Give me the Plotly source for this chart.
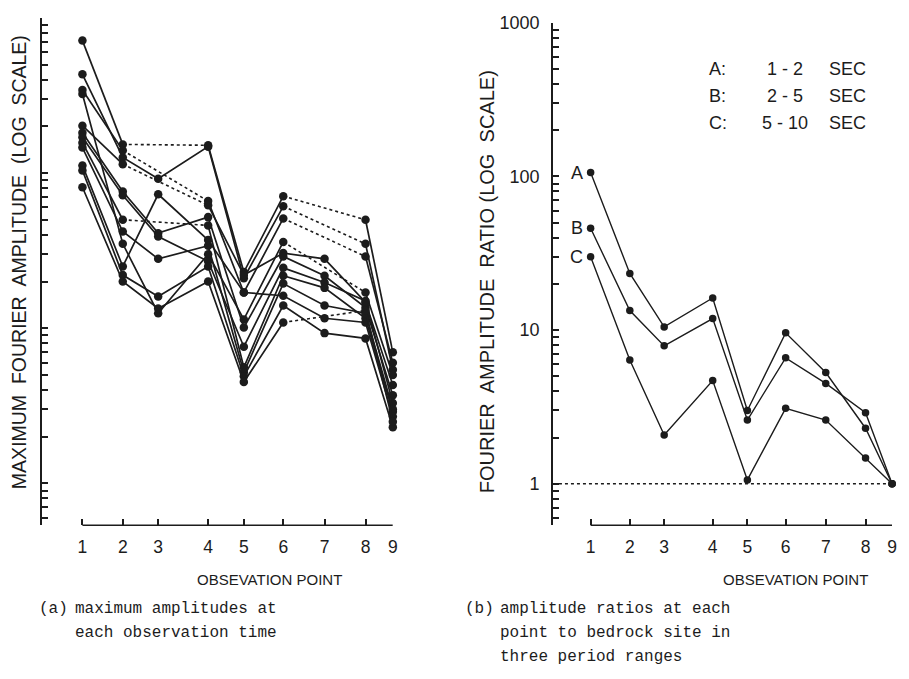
import math
import plotly.graph_objects as go

W, H = 909, 679

obs_points = [1, 2, 3, 4, 5, 6, 7, 8, 9]
obs_pos = [0, 1.3, 2.44, 4.05, 5.2, 6.47, 7.8, 9.12, 10]

# (a) maximum amplitudes, one list per observation time (None = no record -> dotted)
amp_1 = [714, 153, None, 151, 23, 71, None, 50, 7.0]
amp_2 = [433, 126, 92, 148, 21, 61, None, 35, 5.4]
amp_3 = [343, 140, None, 66, 17, 51, None, 29, 6.0]
amp_4 = [323, 35, 12.5, 30, 11.4, 36, None, 17, 5.0]
amp_5 = [202, 114, None, 62, 22, 30.5, 28, 14.7, 4.3]
amp_6 = [182, 76, 41, 52, 10.1, 29, 21.8, 13.6, 3.7]
amp_7 = [170, 72, 39, 27, 7.6, 24.5, 19.7, 15, 3.3]
amp_8 = [157, 50, None, 46, 5.6, 21.8, 18.2, 11.6, 2.9]
amp_9 = [146, 42, 28, 34, 5.2, 19.4, 14, 12.5, 3.0]
amp_10 = [112, 25, 73, 37, 17, 16.2, 11.6, 10.9, 2.7]
amp_11 = [104, 22, 16, 25, 4.9, 14, 9.3, 8.6, 2.3]
amp_12 = [81, 20, 13.4, 20, 4.5, 10.9, None, 13, 2.5]
amp_series = [amp_1, amp_2, amp_3, amp_4, amp_5, amp_6,
              amp_7, amp_8, amp_9, amp_10, amp_11, amp_12]

# (b) amplitude ratio to bedrock site (point 9)
ratio_a = [106, 23.4, 10.5, 16.2, 3.0, 9.6, 5.3, 2.3, 1.0]
ratio_b = [46, 13.4, 7.9, 11.9, 2.6, 6.6, 4.5, 2.9, 1.0]
ratio_c = [30, 6.4, 2.08, 4.7, 1.06, 3.1, 2.6, 1.47, 1.0]
ratio_series = [ratio_a, ratio_b, ratio_c]
ratio_names = ['A', 'B', 'C']
period_ranges = ['1 - 2', '2 - 5', '5 - 10']

INK = '#1c1c1c'
LETTER_FONT = 'Liberation Sans, Arial, sans-serif'
MONO_FONT = 'Liberation Mono, Courier New, monospace'


def px(x):
    return x / W


def py(y):
    return 1 - y / H


def gap_segments(pos, vals):
    ''' segments bridging missing points, drawn dotted '''
    seg_x, seg_y = [], []
    prev = None
    for i, v in enumerate(vals):
        if v is None:
            continue
        if prev is not None and i - prev > 1:
            seg_x += [pos[prev], pos[i], None]
            seg_y += [vals[prev], v, None]
        prev = i
    return seg_x, seg_y


# log tick marks: every digit in every decade
log_ticks = [k * 10 ** d for d in range(-1, 4) for k in range(1, 10)]
log_ticks = [t for t in log_ticks if 0.5 <= t <= 1000]
log_text = [str(t) if t in (1, 10, 100, 1000) else '' for t in log_ticks]

fig = go.Figure()

# ---- (a) ----
for vals in amp_series:
    fig.add_trace(go.Scatter(x=obs_pos, y=vals, mode='lines+markers', connectgaps=False,
                             line=dict(color=INK, width=1.7),
                             marker=dict(color=INK, size=8.5),
                             cliponaxis=False, showlegend=False, xaxis='x', yaxis='y'))
    gx, gy = gap_segments(obs_pos, vals)
    if gx:
        fig.add_trace(go.Scatter(x=gx, y=gy, mode='lines', line=dict(color=INK, width=1.6, dash='dot'),
                                 showlegend=False, xaxis='x', yaxis='y'))

# ---- (b) ----
fig.add_trace(go.Scatter(x=[-1.25, obs_pos[-1]], y=[1, 1], mode='lines',
                         line=dict(color=INK, width=1.5, dash='dot'),
                         showlegend=False, xaxis='x2', yaxis='y2'))
for vals in ratio_series:
    fig.add_trace(go.Scatter(x=obs_pos, y=vals, mode='lines+markers',
                             line=dict(color=INK, width=1.4),
                             marker=dict(color=INK, size=7.5),
                             cliponaxis=False, showlegend=False, xaxis='x2', yaxis='y2'))

xaxis_common = dict(tickvals=obs_pos, ticktext=[str(p) for p in obs_points],
                    ticks='inside', ticklen=6, tickwidth=1.5, tickcolor=INK,
                    ticklabelstandoff=9,
                    showline=False, showgrid=False, zeroline=False,
                    tickfont=dict(family=LETTER_FONT, size=17.5, color=INK))
yaxis_common = dict(type='log', range=[-0.27, 3.0], tickvals=log_ticks,
                    ticks='inside', ticklen=6, tickwidth=1.5, tickcolor=INK,
                    ticklabelstandoff=8,
                    showline=True, linewidth=1.6, linecolor=INK,
                    showgrid=False, zeroline=False,
                    tickfont=dict(family=LETTER_FONT, size=18, color=INK))

fig.update_layout(
    width=W, height=H,
    margin=dict(l=0, r=0, t=0, b=0),
    paper_bgcolor='white', plot_bgcolor='white',
    xaxis=dict(domain=[px(42), px(395)], range=[-1.31, 10], anchor='y', **xaxis_common),
    yaxis=dict(domain=[py(523), py(8)], anchor='x', showticklabels=False, **yaxis_common),
    xaxis2=dict(domain=[px(556), px(897)], range=[-1.25, 10], anchor='y2', **xaxis_common),
    yaxis2=dict(domain=[py(523), py(13)], anchor='x2', ticktext=log_text, **yaxis_common),
)

# x baselines only from point 1 to point 9
for xr, yr in (('x', 'y domain'), ('x2', 'y2 domain')):
    fig.add_shape(type='line', xref=xr, yref=yr, x0=obs_pos[0], x1=obs_pos[-1], y0=0, y1=0,
                  line=dict(color=INK, width=1.6))

annots = []
# axis titles
annots.append(dict(x=px(19), y=py(256), text='MAXIMUM  FOURIER  AMPLITUDE  (LOG  SCALE)',
                   textangle=-90, xanchor='center', font=dict(family=LETTER_FONT, size=19.5, color=INK)))
annots.append(dict(x=px(490), y=py(276), text='FOURIER  AMPLITUDE  RATIO (LOG  SCALE)',
                   textangle=-90, xanchor='center', font=dict(family=LETTER_FONT, size=20, color=INK)))
annots.append(dict(x=px(271), y=py(578), text='OBSEVATION POINT', xanchor='center',
                   font=dict(family=LETTER_FONT, size=15, color=INK)))
annots.append(dict(x=px(800), y=py(578), text='OBSEVATION POINT', xanchor='center',
                   font=dict(family=LETTER_FONT, size=15, color=INK)))

# series letters next to point 1
for name, vals in zip(ratio_names, ratio_series):
    annots.append(dict(x=obs_pos[0], y=math.log10(vals[0]), xref='x2', yref='y2', xshift=-14,
                       xanchor='center', text=name, font=dict(family=LETTER_FONT, size=18, color=INK)))

# period key
for i, (name, rng) in enumerate(zip(ratio_names, period_ranges)):
    yk = py(60 + 27.5 * i)
    annots.append(dict(x=px(711), y=yk, xanchor='left', text=name + ':',
                       font=dict(family=LETTER_FONT, size=18, color=INK)))
    annots.append(dict(x=px(789), y=yk, xanchor='center', text=rng,
                       font=dict(family=LETTER_FONT, size=18, color=INK)))
    annots.append(dict(x=px(832), y=yk, xanchor='left', text='SEC',
                       font=dict(family=LETTER_FONT, size=18, color=INK)))

# captions
caption_a = ['maximum amplitudes at', 'each observation time']
caption_b = ['amplitude ratios at each', 'point to bedrock site in', 'three period ranges']
annots.append(dict(x=px(37), y=py(608), xanchor='left', text='(a)',
                   font=dict(family=MONO_FONT, size=16, color=INK)))
annots.append(dict(x=px(466), y=py(608), xanchor='left', text='(b)',
                   font=dict(family=MONO_FONT, size=16, color=INK)))
for i, line in enumerate(caption_a):
    annots.append(dict(x=px(73), y=py(608 + 24.5 * i), xanchor='left', text=line,
                       font=dict(family=MONO_FONT, size=16, color=INK)))
for i, line in enumerate(caption_b):
    annots.append(dict(x=px(501), y=py(608 + 24.5 * i), xanchor='left', text=line,
                       font=dict(family=MONO_FONT, size=16, color=INK)))

for a in annots:
    a.setdefault('xref', 'paper')
    a.setdefault('yref', 'paper')
    a['yanchor'] = 'middle'
    a['showarrow'] = False
    fig.add_annotation(**a)

# page body margin would push the figure off its pixel grid
fig.write_html("out.html", config={'displayModeBar': False},
               post_script="document.body.style.margin='0';")
